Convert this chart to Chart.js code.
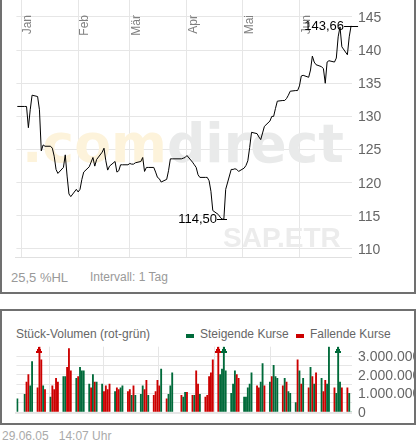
<!DOCTYPE html>
<html>
<head>
<meta charset="utf-8">
<script src="https://cdn.jsdelivr.net/npm/chart.js@4.4.1/dist/chart.umd.min.js"></script>
<style>
  body { margin: 0; width: 417px; height: 443px; background: #fff; position: relative; overflow: hidden;
         font-family: "Liberation Sans", Arial, sans-serif; }
  .box { position: absolute; border: 2px solid #707070; box-sizing: border-box; }
  .txt { position: absolute; font-size: 12px; color: #999; white-space: nowrap; }
  canvas { position: absolute; left: 0; }
</style>
</head>
<body>
<div class="box" style="left:0;top:-4px;width:416px;height:298px;"></div>
<canvas id="priceChart" width="417" height="260" style="top:0"></canvas>
<div class="txt" style="left:11px;top:270px;font-size:13px;">25,5 %HL</div>
<div class="txt" style="left:90px;top:270px;">Intervall: 1 Tag</div>

<div class="box" style="left:0;top:309px;width:416px;height:116px;overflow:hidden;">
  <div class="txt" style="left:14px;top:16px;color:#666;">Stück-Volumen (rot-grün)</div>
  <div style="position:absolute;left:184px;top:23px;width:8px;height:4px;background:#006a3a"></div>
  <div class="txt" style="left:198px;top:16px;color:#666;">Steigende Kurse</div>
  <div style="position:absolute;left:294px;top:23px;width:8px;height:4px;background:#cc0000"></div>
  <div class="txt" style="left:308px;top:16px;color:#666;">Fallende Kurse</div>
  <canvas id="volChart" width="417" height="84" style="top:29px;left:-2px"></canvas>
</div>
<div class="txt" style="left:2px;top:429px;font-size:12px;color:#aaa;">29.06.05&nbsp;&nbsp;&nbsp;14:07 Uhr</div>

<script>
// closing prices per trading day, 30.12.2004 - 29.06.2005
const prices = [131.5,131.5,131.5,128.3,131,133.2,133,131,124.8,125.7,125.5,125.5,125.2,124,122,121.4,122.3,124.2,121,118.3,
  117.9,119,118.6,119,120.5,121.6,122.4,123.1,123.8,122.5,123.5,124.6,125.2,123.3,121.9,122.5,123.2,121.6,121.8,122.7,
  122.7,122.7,122.9,122.8,122.8,123,123.2,123.8,121.7,122.3,122.3,122.3,121.6,120.8,120.6,120.1,120.5,121.8,123.6,123.6,
  123.6,123.7,123.8,124.1,123.1,122.7,122.3,121.2,120.8,120.8,120.8,120.3,118.7,115.8,115.2,114.8,114.5,114.5,119,122,
  122,122.1,122,121.7,122.2,122.6,123.3,125.3,127.6,127.4,126.9,126.5,127.5,128.5,129.3,130,130,131.2,132.3,132.4,
  132.4,132.7,133.2,133.8,133.9,133.9,134.6,136.1,136.2,135.9,137,139.1,138.2,137.8,137.5,137.2,135,138.2,138.4,138.2,
  138.8,142,143.5,140.5,139.3,142,143.66];
// volume in millions, and direction (g = rising, r = falling)
const volumes = [0.7,
  0.95,1.6,2.0,1.4,2.7, 1.3,3.9,2.8,1.4,1.2, 0.8,1.4,1.2,1.8,1.6, 1.9,1.9,2.4,3.4,2.2, 1.8,1.9,2.4,2.2,2.2,
  1.5,1.3,2.0,1.6,1.6, 1.5,1.1,1.4,1.2,1.5, 1.1,1.3,1.2,1.3,1.4, 1.1,1.2,0.9,1.4,0.9, 0.95,1.4,1.2,1.7,0.9,
  0.9,1.1,1.7,1.4,2.3, 0.7,0.95,1.4,2.1, 0.9,0.8,1.05,1.05, 0.9,0.9,2.2,1.5,0.95, 0.8,0.9,1.9,2.1,2.8,
  3.9,2.0,2.3,3.9,2.2, 1.0,1.5,2.2,2.0,1.8, 0.8,0.8,1.3,1.5,2.1, 1.4,1.3,1.6,2.6,1.4, 1.6,1.9,2.5,1.9,1.8,
  1.4,1.8,1.6,1.1,1.0, 0.5,2.8,2.2,1.5,1.8, 1.3,2.4,1.9,1.5,2.1, 1.8,1.1,1.7,1.5,3.5, 1.3,1.0,3.9,1.6,1.3,
  1.3,1.0,0];
const volDir = 'g' +
  'grrgg' + 'rrrgr' + 'grrrr' + 'ggrrr' + 'grggg' +
  'grgrg' + 'grrrr' + 'grrgg' + 'rrgrg' + 'ggrrg' +
  'rrrrg' + 'rggg' + 'rggr' + 'rgrrg' + 'rrrrr' +
  'rgggg' + 'gggrr' + 'ggggg' + 'rrggr' + 'grggg' +
  'rgrgg' + 'grgrg' + 'rgrgr' + 'grrgg' + 'rgggr' +
  'rgg';
const months = ['Jan', 'Feb', 'Mär', 'Apr', 'Mai', 'Jun'];
const monthStarts = [0, 31, 59, 90, 120, 151];   // day offsets from 01.01.2005
const priceTicks = [110, 115, 120, 125, 130, 135, 140, 145];
const volTicks = [0, 500000, 1000000, 1500000, 2000000, 2500000, 3000000];
const holidays = [-1, 83, 86];                   // 31.12., Karfreitag, Ostermontag

// trading days as day offsets
const days = [];
for (let d = -2; days.length < prices.length; d++) {
  const wd = ((d % 7) + 7) % 7;  // 0 = Sat, 1 = Sun
  if (wd > 1 && !holidays.includes(d)) days.push(d);
}

const X_MIN = -2.5, X_MAX = 179.5;
const GRID = '#e6e6e6';
const FONT = '"Liberation Sans", Arial, sans-serif';
const fmt = v => String(v).replace(/\B(?=(\d{3})+(?!\d))/g, '.');

const xScale = () => ({
  type: 'linear', min: X_MIN, max: X_MAX, offset: false,
  afterBuildTicks: s => { s.ticks = monthStarts.map(v => ({ value: v })); },
  afterFit: s => { s.height = 0; },
  ticks: { display: false },
  grid: { color: GRID, drawTicks: false },
  border: { display: false }
});
const yScale = (min, max, ticks) => ({
  position: 'right', min, max,
  afterBuildTicks: s => { s.ticks = ticks.map(v => ({ value: v })); },
  afterFit: s => { s.width = 65; },
  ticks: { display: false },
  grid: { color: GRID, drawTicks: false },
  border: { display: false }
});

// right-hand tick labels drawn by hand so the plot area stays fixed
const yLabels = (format) => ({
  id: 'yLabels',
  afterDraw(chart) {
    const { ctx, scales: { y }, chartArea: a } = chart;
    ctx.save();
    ctx.font = '14px ' + FONT;
    ctx.fillStyle = '#666';
    ctx.textAlign = 'left';
    ctx.textBaseline = 'middle';
    y.ticks.forEach(t => {
      const s = format(t.value);
      if (s) ctx.fillText(s, a.right + 6, y.getPixelForValue(t.value) + 1);
    });
    ctx.restore();
  }
});

const priceExtras = {
  id: 'priceExtras',
  beforeDatasetsDraw(chart) {
    const { ctx, scales: { x } } = chart;
    ctx.save();
    // watermark
    ctx.font = 'bold 77px "DejaVu Sans", sans-serif';
    const w1 = ctx.measureText('.com').width, w2 = ctx.measureText('direct').width;
    const k = 322 / (w1 + w2);
    ctx.font = 'bold ' + (77 * k) + 'px "DejaVu Sans", sans-serif';
    ctx.textBaseline = 'alphabetic';
    ctx.fillStyle = '#fdf3db';
    ctx.fillText('.com', 22, 162);
    ctx.fillStyle = '#e9eaea';
    ctx.fillText('direct', 22 + w1 * k, 162);
    ctx.font = 'bold 28px ' + FONT;
    ctx.fillStyle = '#ececec';
    ctx.fillText('SAP.ETR', 223, 247);
    // month labels
    ctx.font = '12px ' + FONT;
    ctx.fillStyle = '#808080';
    ctx.textAlign = 'right';
    ctx.textBaseline = 'middle';
    monthStarts.forEach((d, i) => {
      ctx.save();
      ctx.translate(x.getPixelForValue(d) + 7, 15);
      ctx.rotate(-Math.PI / 2);
      ctx.fillText(months[i], 0, 0);
      ctx.restore();
    });
    // bottom axis line
    ctx.strokeStyle = '#e0e0e0';
    ctx.lineWidth = 1;
    ctx.beginPath();
    ctx.moveTo(15, chart.chartArea.bottom - 0.5);
    ctx.lineTo(chart.chartArea.right, chart.chartArea.bottom - 0.5);
    ctx.stroke();
    ctx.restore();
  },
  afterDatasetsDraw(chart) {
    const { ctx, scales: { x, y } } = chart;
    let iMin = 0, iMax = 0;
    prices.forEach((p, i) => { if (p < prices[iMin]) iMin = i; if (p >= prices[iMax]) iMax = i; });
    ctx.save();
    ctx.strokeStyle = '#000';
    ctx.lineWidth = 1;
    ctx.font = '13px ' + FONT;
    ctx.fillStyle = '#000';
    ctx.textAlign = 'right';
    ctx.textBaseline = 'middle';
    [[iMin, 5], [iMax, 7]].forEach(([i, half]) => {
      const px = x.getPixelForValue(days[i]), py = Math.round(y.getPixelForValue(prices[i])) + 0.5;
      ctx.beginPath();
      ctx.moveTo(px - half, py);
      ctx.lineTo(px + half, py);
      ctx.stroke();
      ctx.fillText(prices[i].toFixed(2).replace('.', ','), px - half, py);
    });
    ctx.restore();
  }
};

new Chart(document.getElementById('priceChart'), {
  type: 'line',
  data: {
    datasets: [{
      data: days.map((d, i) => ({ x: d, y: prices[i] })),
      borderColor: '#000', borderWidth: 1, pointRadius: 0, tension: 0
    }]
  },
  options: {
    responsive: false, animation: false,
    layout: { padding: { left: 16.4, top: 0, bottom: 2, right: 0 } },
    plugins: { legend: { display: false }, tooltip: { enabled: false } },
    scales: { x: xScale(), y: yScale(108.64, 147.56, priceTicks) }
  },
  plugins: [priceExtras, yLabels(v => String(v))]
});

const VMAX = 3500000;
const volExtras = {
  id: 'volExtras',
  beforeDatasetsDraw(chart) {
    const { ctx, chartArea: a } = chart;
    ctx.save();
    ctx.fillStyle = '#e6e6e6';
    ctx.fillRect(15, a.bottom, a.right - 15, 2);
    ctx.restore();
  },
  afterDatasetsDraw(chart) {
    const { ctx, scales: { x } } = chart;
    ctx.save();
    volumes.forEach((v, i) => {
      if (v * 1e6 <= VMAX) return;
      const px = Math.round(x.getPixelForValue(days[i]));
      ctx.fillStyle = volDir[i] === 'g' ? '#006a3a' : '#cc0000';
      ctx.fillRect(px - 1, 7, 2, 2);
      ctx.fillRect(px - 2, 9, 4, 2);
      ctx.fillRect(px - 3, 11, 6, 2);
    });
    ctx.restore();
  }
};

// canvas spans y 340..424; plot area 346.7..412
new Chart(document.getElementById('volChart'), {
  type: 'bar',
  data: {
    datasets: [{
      data: days.map((d, i) => ({ x: d, y: Math.min(volumes[i] * 1e6, VMAX) })),
      backgroundColor: volDir.split('').map(c => c === 'g' ? '#006a3a' : '#cc0000'),
      barThickness: 1.2, borderWidth: 0
    }]
  },
  options: {
    responsive: false, animation: false,
    layout: { padding: { left: 16.4, top: 6.7, bottom: 12, right: 0 } },
    plugins: { legend: { display: false }, tooltip: { enabled: false } },
    scales: { x: xScale(), y: yScale(0, VMAX, volTicks) }
  },
  plugins: [volExtras, yLabels(v => v % 1000000 === 0 ? fmt(v) : '')]
});
</script>
</body>
</html>
